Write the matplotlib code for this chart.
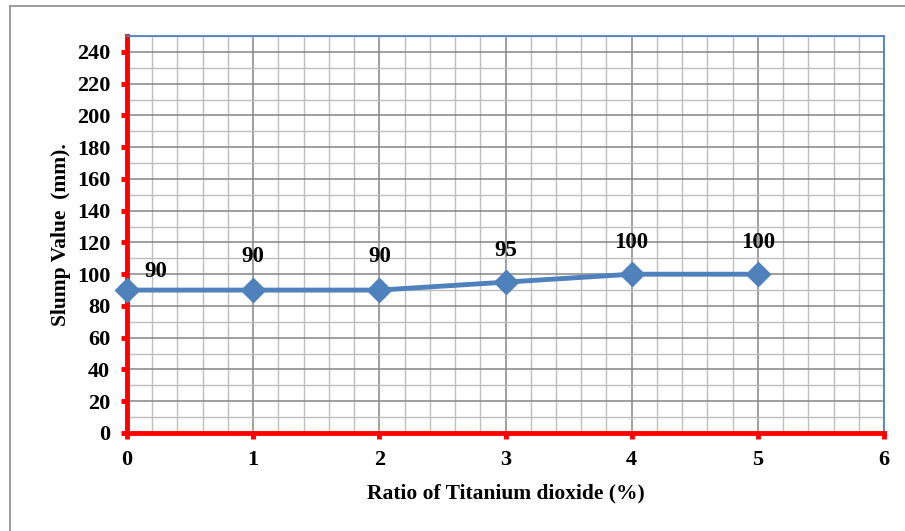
import matplotlib
matplotlib.use("Agg")
import matplotlib.pyplot as plt
from matplotlib.lines import Line2D
from matplotlib.ticker import MultipleLocator

# slump test results vs TiO2 content
tio2_pct = [0, 1, 2, 3, 4, 5]
slump_mm = [90, 90, 90, 95, 100, 100]
# label offsets in pixels (dx, dy) above each marker
label_offsets = [(29, 19), (0, 34), (0, 34), (0, 32), (0, 32), (0, 32)]

plt.rcParams["font.family"] = ["Liberation Serif", "DejaVu Serif"]
plt.rcParams["font.weight"] = "bold"

fig = plt.figure(figsize=(9.05, 5.31), dpi=100)
ax = fig.add_axes([127 / 905, 98 / 531, 757 / 905, 397 / 531])

# thin outer frame (left and top edges only visible)
fig.add_artist(Line2D([10 / 905, 10 / 905], [0, 1 - 6 / 531], transform=fig.transFigure,
                      color="#8c8c8c", lw=1.2))
fig.add_artist(Line2D([10 / 905, 1], [1 - 6 / 531, 1 - 6 / 531], transform=fig.transFigure,
                      color="#8c8c8c", lw=1.2))

ax.set_xlim(0, 6)
ax.set_ylim(0, 250)
ax.xaxis.set_major_locator(MultipleLocator(1))
ax.xaxis.set_minor_locator(MultipleLocator(0.2))
ax.yaxis.set_major_locator(MultipleLocator(20))
ax.yaxis.set_minor_locator(MultipleLocator(10))
ax.set_yticks(range(0, 241, 20))

ax.grid(which="major", color="#858585", lw=1.1)
ax.grid(which="minor", color="#bdbdbd", lw=1.0)
ax.set_axisbelow(True)

for side in ("left", "bottom"):
    ax.spines[side].set_color("#ff0000")
    ax.spines[side].set_linewidth(3.5)
for side in ("top", "right"):
    ax.spines[side].set_color("#4f81bd")
    ax.spines[side].set_linewidth(1.3)

ax.tick_params(which="major", direction="out", length=4, width=3.5, color="#ff0000",
               labelsize=16)
ax.tick_params(axis="y", pad=8)
ax.tick_params(axis="x", pad=8)
ax.tick_params(which="minor", length=0)
for lbl in ax.get_xticklabels() + ax.get_yticklabels():
    lbl.set_fontweight("bold")

ax.plot(tio2_pct, slump_mm, color="#4f81bd", lw=3.5, marker="D", markersize=12,
        markerfacecolor="#4f81bd", markeredgecolor="#4f81bd", clip_on=False, zorder=5)

for x, y, (dx, dy) in zip(tio2_pct, slump_mm, label_offsets):
    ax.annotate(str(y), (x, y), xytext=(dx, dy), textcoords="offset pixels",
                ha="center", va="center", fontsize=16.5, fontweight="bold")

ax.set_xlabel("Ratio of Titanium dioxide (%)", fontsize=15.5, fontweight="bold", labelpad=10)
ax.set_ylabel("Slump Value  (mm).", fontsize=15.5, fontweight="bold", labelpad=4)

fig.savefig("out.png", dpi=100)
